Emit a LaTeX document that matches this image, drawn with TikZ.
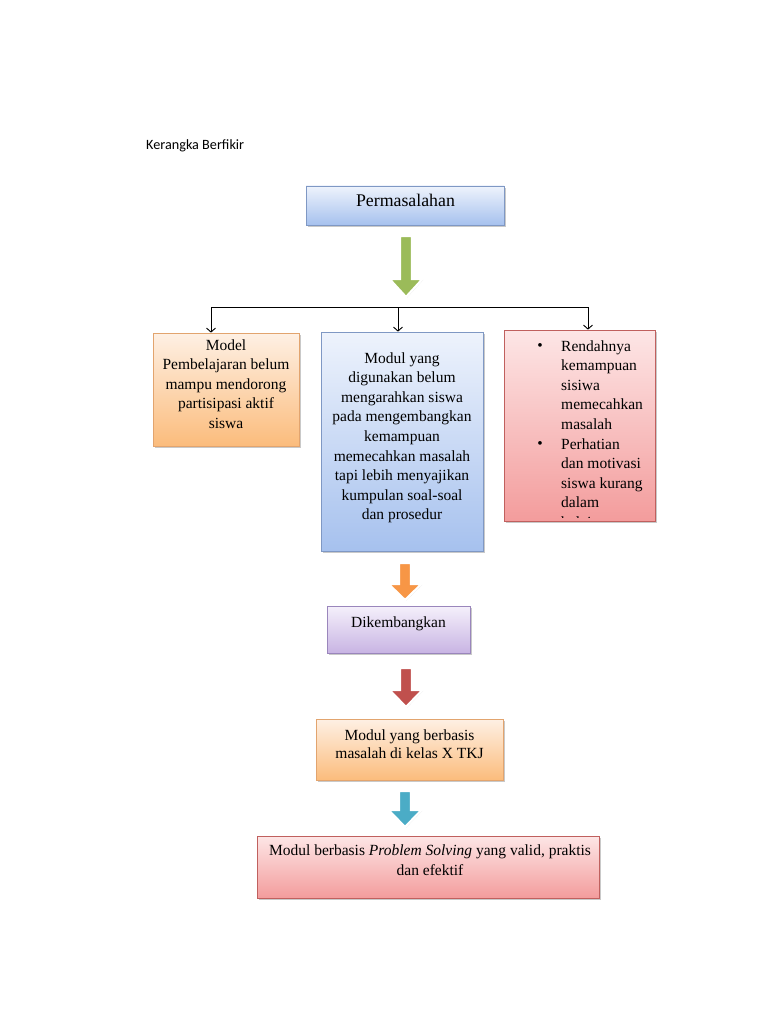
\documentclass[tikz,border=0pt]{standalone}
\usepackage{fontspec}
\setmainfont{Liberation Serif}
\newfontfamily\titlefont{Carlito}
\usetikzlibrary{shadows,arrows.meta,calc}
\definecolor{bluT}{HTML}{EEF3FC}
\definecolor{bluD}{HTML}{A6C1EE}
\definecolor{bluB}{HTML}{7F98C4}
\definecolor{oraT}{HTML}{FEF0E4}
\definecolor{oraD}{HTML}{FBBC7C}
\definecolor{oraB}{HTML}{E2A46E}
\definecolor{redT}{HTML}{FDE6E6}
\definecolor{redD}{HTML}{F39C9C}
\definecolor{redB}{HTML}{C0605E}
\definecolor{purT}{HTML}{F5F0FB}
\definecolor{purD}{HTML}{C8B4E3}
\definecolor{purB}{HTML}{9A86BC}
\definecolor{arrGreen}{HTML}{9BBB59}
\definecolor{arrOrange}{HTML}{F79646}
\definecolor{arrRed}{HTML}{C0504D}
\definecolor{arrTeal}{HTML}{4BACC6}
\newcommand{\blockarr}[7]{%
  \path[fill=#5, draw=white, line width=2.2pt, line join=miter,
    drop shadow={shadow xshift=0.8pt, shadow yshift=-0.8pt, opacity=0.3}]
    ({#1-#6},#2) -- ({#1+#6},#2) -- ({#1+#6},#3) -- ({#1+#7},#3) -- (#1,#4)
    -- ({#1-#7},#3) -- ({#1-#6},#3) -- cycle;}
\begin{document}
\begin{tikzpicture}[x=1pt,y=-1pt,
  bx/.style={draw=#1B, top color=#1T, bottom color=#1D, line width=0.7pt,
    inner sep=0pt,
    drop shadow={shadow xshift=1.5pt, shadow yshift=-2pt, opacity=0.35, fill=black!60}},
  txt/.style={font=\fontsize{15.5}{19.6}\selectfont, align=center, inner sep=0pt, anchor=base},
  conn/.style={line width=0.9pt, -{Straight Barb[length=4pt,width=9pt]}}]
\useasboundingbox[fill=white] (0,0) rectangle (768,1024);

\node[anchor=base west, inner sep=0pt, font=\titlefont\fontsize{14.2}{16}\selectfont] (title) at (146,149.3) {Kerangka Berfikir};

% boxes (multi-line texts are placed by the baseline of their last line)
\node[bx=blu, minimum width=198pt, minimum height=39pt] (perm) at (405,205.5) {};
\node[txt, font=\fontsize{17.8}{21}\selectfont] (permT) at (405.5,207) {Permasalahan};

\node[bx=ora, minimum width=146pt, minimum height=113pt] (model) at (226,389.5) {};
\node[txt] (modelT) at (226,428.4) {Model\\Pembelajaran belum\\mampu mendorong\\partisipasi aktif\\siswa};

\node[bx=blu, minimum width=162pt, minimum height=219pt] (modul) at (402,441.5) {};
\node[txt] (modulT) at (402,519.8) {Modul yang\\digunakan belum\\mengarahkan siswa\\pada mengembangkan\\kemampuan\\memecahkan masalah\\tapi lebih menyajikan\\kumpulan soal-soal\\dan prosedur};

\node[bx=red, minimum width=151pt, minimum height=191pt] (rendah) at (579.5,425.5) {};
\begin{scope}
  \clip (rendah.north west) rectangle ($(rendah.south east)+(0,-3.5)$);
  \node[txt, anchor=base] (b1) at (540,350) {\textbullet};
  \node[txt, anchor=base] (b2) at (540,448) {\textbullet};
  \node[txt, anchor=base west, align=left] (rendahT) at (561,527.5) {Rendahnya\\kemampuan\\sisiwa\\memecahkan\\masalah\\Perhatian\\dan motivasi\\siswa kurang\\dalam\\belajar};
\end{scope}

\node[bx=pur, minimum width=143pt, minimum height=47pt] (dikem) at (398.5,629.5) {};
\node[txt] (dikemT) at (398.5,627) {Dikembangkan};

\node[bx=ora, minimum width=187pt, minimum height=61pt] (basis) at (409.5,749.5) {};
\node[txt, font=\fontsize{15.5}{18.5}\selectfont] (basisT) at (409.5,758.5) {Modul yang berbasis\\masalah di kelas X TKJ};

\node[bx=red, minimum width=342pt, minimum height=62pt] (final) at (428,867) {};
\node[txt, font=\fontsize{15.5}{20}\selectfont] (finalT) at (430,875) {Modul berbasis \textit{Problem Solving} yang valid, praktis\\dan efektif};

% block arrows
\blockarr{406}{236}{279}{297}{arrGreen}{6}{16.5}
\blockarr{405}{563}{584}{600}{arrOrange}{6}{16.5}
\blockarr{406}{668}{690}{707}{arrRed}{6}{16.5}
\blockarr{405}{791}{810}{827}{arrTeal}{6}{16.5}

% bracket connectors
\coordinate (bl) at (211,307);
\coordinate (bm) at (398,307);
\coordinate (br) at (588,307);
\draw[line width=0.9pt] (bl) -- (br);
\draw[conn] (bl) -- (bl |- model.north);
\draw[conn] (bm) -- (bm |- modul.north);
\draw[conn] (br) -- (br |- rendah.north);
\end{tikzpicture}
\end{document}
